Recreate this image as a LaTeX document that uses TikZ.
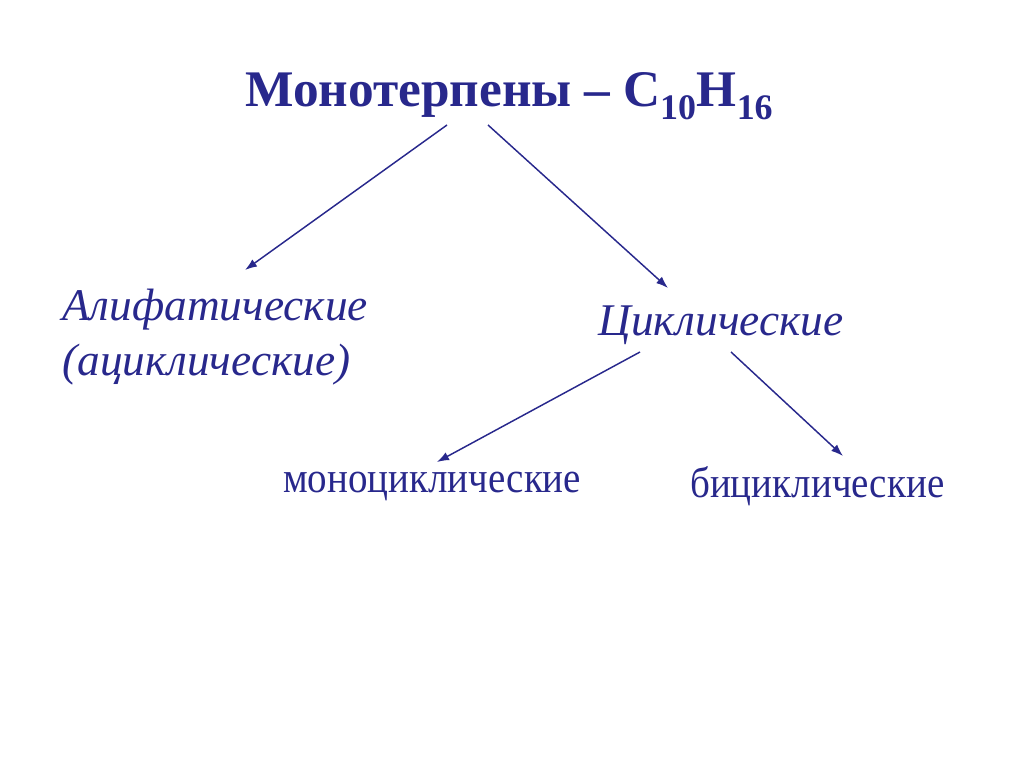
\documentclass[tikz,border=0pt]{standalone}
\usepackage{fontspec}
\setmainfont{Liberation Serif}
\newfontfamily\narrowfont[FakeStretch=0.9]{Liberation Serif}
\usetikzlibrary{arrows.meta}
\definecolor{navy}{RGB}{40,40,140}
\tikzset{
  term/.style={inner sep=0pt, text=navy, anchor=base west},
  arr/.style={draw=navy, line width=1.1pt, -{Latex[length=9pt,width=6.5pt]}}
}
\begin{document}
\begin{tikzpicture}[x=0.75pt, y=-0.75pt]
    % frame
    \useasboundingbox (0,0) rectangle (1024,767);

    % headings
    \node[term, font=\fontsize{38.5}{44}\selectfont\bfseries] (title) at (245,107)
      {Монотерпены – C\textsubscript{10}H\textsubscript{16}};
    \node[term, font=\fontsize{34}{41}\selectfont\itshape, align=left] (alif) at (62,375)
      {Алифатические\\(ациклические)};
    \node[term, font=\fontsize{34}{36}\selectfont\itshape] (cycl) at (598,335) {Циклические};
    \node[term, font=\narrowfont\fontsize{32.5}{36}\selectfont] (mono) at (283,492) {моноциклические};
    \node[term, font=\narrowfont\fontsize{32.5}{36}\selectfont] (bicy) at (690,497) {бициклические};

    % arrow ends
    \coordinate (t1) at (447,125);
    \coordinate (t2) at (488,125);
    \coordinate (c1) at (640,352);
    \coordinate (c2) at (731,352);
    \coordinate (h1) at (245,270);
    \coordinate (h2) at (668,288);
    \coordinate (h3) at (437,462);
    \coordinate (h4) at (843,456);

    % arrows
    \draw[arr] (t1) -- (h1);
    \draw[arr] (t2) -- (h2);
    \draw[arr] (c1) -- (h3);
    \draw[arr] (c2) -- (h4);
\end{tikzpicture}
\end{document}
